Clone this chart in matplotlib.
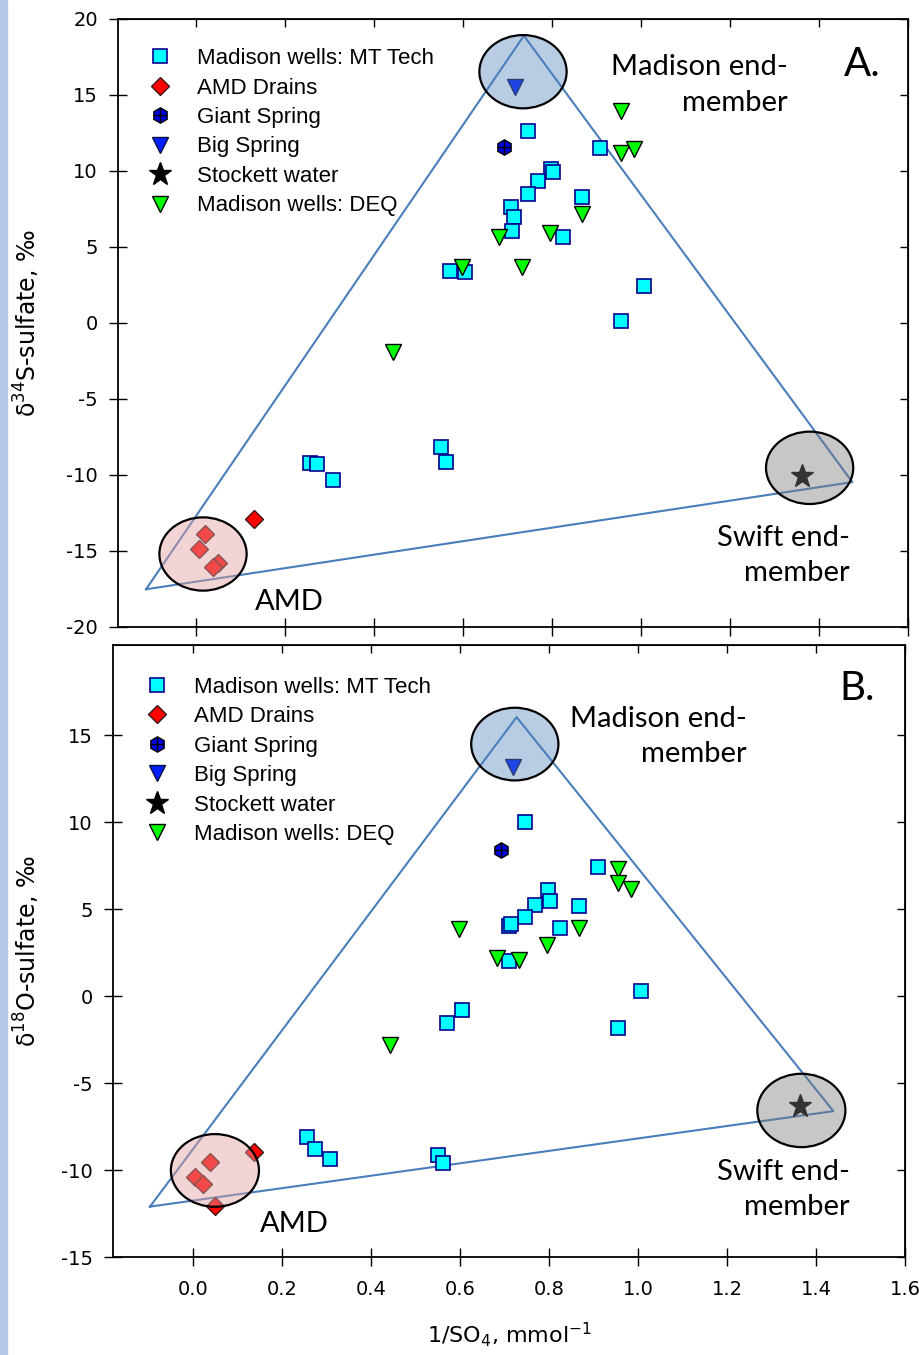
import matplotlib
matplotlib.use('Agg')
from matplotlib import pyplot as plt
from matplotlib.patches import Ellipse, Rectangle
from matplotlib.ticker import FormatStrFormatter
import numpy as np

plt.rcParams['font.family'] = ['Liberation Sans', 'DejaVu Sans']
plt.rcParams['mathtext.fontset'] = 'custom'
plt.rcParams['mathtext.rm'] = 'DejaVu Sans'
plt.rcParams['mathtext.it'] = 'DejaVu Sans:italic'
plt.rcParams['axes.unicode_minus'] = False

# ---- data (x = 1/SO4, mmol^-1) ----
mt_x = [0.747, 0.909, 0.798, 0.803, 0.769, 0.747, 0.868, 0.709, 0.714, 0.711,
        0.825, 0.571, 0.604, 1.007, 0.955, 0.256, 0.273, 0.307, 0.550, 0.562]
mt_s34 = [12.6, 11.5, 10.1, 9.95, 9.36, 8.5, 8.32, 7.61, 7.0, 6.07,
          5.68, 3.44, 3.37, 2.45, 0.15, -9.23, -9.28, -10.33, -8.14, -9.13]
mt_o18 = [10.02, 7.43, 6.09, 5.48, 5.23, 4.56, 5.19, 4.02, 4.18, 2.03,
          3.95, -1.53, -0.80, 0.29, -1.82, -8.08, -8.81, -9.39, -9.14, -9.62]

amd_x_s = [0.130, 0.020, 0.007, 0.050, 0.038]
amd_s34 = [-12.9, -13.9, -14.9, -15.8, -16.07]
amd_x_o = [0.136, 0.037, 0.004, 0.022, 0.049]
amd_o18 = [-8.95, -9.56, -10.38, -10.8, -12.07]

giant_x = [0.692]
giant_s34 = [11.56]
giant_o18 = [8.43]

big_x = [0.718]
big_s34 = [15.55]
big_o18 = [13.18]

stock_x = [1.363]
stock_s34 = [-10.09]
stock_o18 = [-6.34]

deq_x = [0.955, 0.955, 0.985, 0.868, 0.682, 0.796, 0.597, 0.733, 0.443]
deq_s34 = [13.97, 11.16, 11.47, 7.2, 5.64, 5.9, 3.7, 3.7, -1.9]
deq_o18 = [7.33, 6.49, 6.19, 3.95, 2.2, 2.93, 3.89, 2.11, -2.82]

# mixing triangles (AMD, Madison, Swift end-members)
tri_s_x = [-0.112, 0.737, 1.475, -0.112]
tri_s_y = [-17.52, 18.9, -10.47, -17.52]
tri_o_x = [-0.097, 0.727, 1.439, -0.097]
tri_o_y = [-12.1, 16.05, -6.61, -12.1]

# end-member ellipses: (x, y, width, height)
ell_s = {'madison': (0.735, 16.53, 0.196, 4.82),
         'swift': (1.379, -9.53, 0.196, 4.76),
         'amd': (0.016, -15.2, 0.196, 4.82)}
ell_o = {'madison': (0.723, 14.5, 0.196, 4.18),
         'swift': (1.367, -6.57, 0.198, 4.22),
         'amd': (0.049, -10.02, 0.198, 4.18)}
ell_col = {'madison': ('#4f81bd', 0.4),
           'swift': ('#7a7a7a', 0.42),
           'amd': ('#e3a0a0', 0.45)}

xticks = np.arange(0, 1.61, 0.2)

fig = plt.figure(figsize=(9.19, 13.55), dpi=100)
fig.patches.append(Rectangle((0, 0), 7 / 919, 1, transform=fig.transFigure,
                             color='#b4c7e7', zorder=0))

ax1 = fig.add_axes([0.1284, 0.5373, 0.8596, 0.4487])
ax2 = fig.add_axes([0.1230, 0.0723, 0.8618, 0.4517])


def draw(ax, tri_x, tri_y, amd_x, amd_y, mt_y, gi_y, bg_y, st_y, dq_y, ells):
    ax.plot(tri_x, tri_y, color='#4a7ebb', lw=1.5, zorder=1)
    h_mt, = ax.plot(mt_x, mt_y, 's', ms=10, mfc='#00ffff', mec='#000090', mew=1.2,
                    ls='none', zorder=3)
    h_amd, = ax.plot(amd_x, amd_y, 'D', ms=9.3, mfc='#ff0000', mec='#3a1a1a', mew=1.0,
                     ls='none', zorder=3)
    h_gi, = ax.plot(giant_x, gi_y, 'h', ms=11, mfc='#0000e0', mec='black', mew=1.0,
                    ls='none', zorder=3)
    h_gp, = ax.plot(giant_x, gi_y, '+', ms=10, mec='black', mew=1.0, ls='none', zorder=3)
    h_bg, = ax.plot(big_x, bg_y, 'v', ms=11, mfc='#0020ff', mec='#101040', mew=1.0,
                    ls='none', zorder=3)
    h_st, = ax.plot(stock_x, st_y, '*', ms=17, mfc='black', mec='black', ls='none', zorder=3)
    h_dq, = ax.plot(deq_x, dq_y, 'v', ms=11, mfc='#00ff00', mec='black', mew=1.0,
                    ls='none', zorder=3)
    for k, (cx, cy, w, h) in ells.items():
        c, a = ell_col[k]
        ax.add_patch(Ellipse((cx, cy), w, h, facecolor=c, alpha=a, edgecolor='none', zorder=4))
        ax.add_patch(Ellipse((cx, cy), w, h, facecolor='none', edgecolor='black', lw=1.6, zorder=5))
    return [h_mt, h_amd, (h_gi, h_gp), h_bg, h_st, h_dq]


labels = ['Madison wells: MT Tech', 'AMD Drains', 'Giant Spring', 'Big Spring',
          'Stockett water', 'Madison wells: DEQ']

hs = draw(ax1, tri_s_x, tri_s_y, amd_x_s, amd_s34, mt_s34, giant_s34, big_s34,
          stock_s34, deq_s34, ell_s)
draw(ax2, tri_o_x, tri_o_y, amd_x_o, amd_o18, mt_o18, giant_o18, big_o18,
     stock_o18, deq_o18, ell_o)

for ax, anchor in [(ax1, (0.039, 0.952)), (ax2, (0.042, 0.948))]:
    ax.legend(hs, labels, loc='upper left', bbox_to_anchor=anchor, frameon=False,
              fontsize=16, handlelength=1.0, handletextpad=1.15, labelspacing=0.38,
              borderpad=0, borderaxespad=0)

ann = dict(family=['Lato', 'DejaVu Sans'], fontsize=21, linespacing=1.45)
big = dict(family=['Lato', 'DejaVu Sans'], fontsize=29, ha='center', va='center')
ax1.text(1.33, 15.66, 'Madison end-\nmember', ha='right', va='center', **ann)
ax1.text(1.47, -15.3, 'Swift end-\nmember', ha='right', va='center', **ann)
ax1.text(0.211, -18.36, 'AMD', ha='center', va='center', **ann)
ax1.text(1.497, 17.0, 'A.', **big)

ax2.text(1.244, 14.94, 'Madison end-\nmember', ha='right', va='center', **ann)
ax2.text(1.476, -11.12, 'Swift end-\nmember', ha='right', va='center', **ann)
ax2.text(0.227, -13.1, 'AMD', ha='center', va='center', **ann)
ax2.text(1.492, 17.7, 'B.', **big)

for ax, xl, yl, yt in [(ax1, (-0.175, 1.6), (-20, 20), np.arange(-20, 21, 5)),
                       (ax2, (-0.18, 1.6), (-15, 20.2), np.arange(-15, 16, 5))]:
    ax.set_xlim(xl)
    ax.set_ylim(yl)
    ax.set_xticks(xticks)
    ax.set_yticks(yt)
    ax.xaxis.set_major_formatter(FormatStrFormatter('%.1f'))
    ax.tick_params(direction='inout', length=13, width=1, labelsize=14)
    ax.tick_params(axis='x', pad=10)
    ax.tick_params(axis='y', pad=8)
    for t in ax.get_xticklabels() + ax.get_yticklabels():
        t.set_family('DejaVu Sans')
    for sp in ax.spines.values():
        sp.set_linewidth(1.3)
    top = ax.secondary_xaxis('top')
    top.set_xticks(xticks)
    top.tick_params(direction='in', length=6, width=1, labeltop=False)
    right = ax.secondary_yaxis('right')
    right.set_yticks(yt)
    right.tick_params(direction='in', length=6, width=1, labelright=False)

ax1.tick_params(labelbottom=False)

lab = dict(family=['DejaVu Sans'], fontsize=17)
ax1.set_ylabel('δ$^{34}$S-sulfate, ‰', **lab)
ax1.yaxis.set_label_coords(-0.096, 0.5)
ax2.set_ylabel('δ$^{18}$O-sulfate, ‰', **lab)
ax2.yaxis.set_label_coords(-0.090, 0.5)
ax2.set_xlabel('1/SO$_4$, mmol$^{-1}$', family=['DejaVu Sans'], fontsize=16)
ax2.xaxis.set_label_coords(0.5, -0.104)

fig.savefig('out.png', dpi=100)
